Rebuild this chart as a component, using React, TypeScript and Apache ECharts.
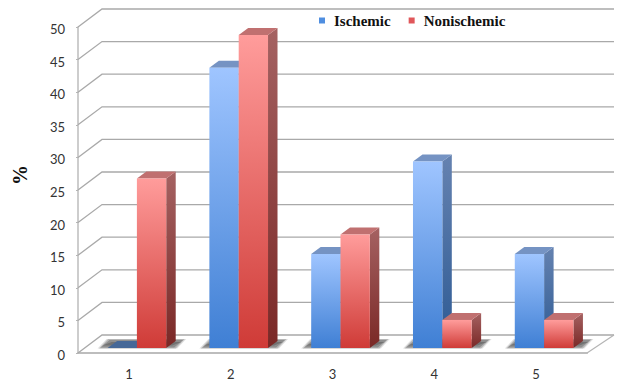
import React, { useEffect, useRef } from "react";
import * as echarts from "echarts";

const categories = ["1", "2", "3", "4", "5"];
const ischemic = [0, 43, 14.4, 28.6, 14.4];
const nonischemic = [26, 48, 17.4, 4.3, 4.3];
const wallTicks = [0, 5, 10, 15, 20, 25, 30, 35, 40, 45, 50];

// Projection of the chart's depth onto the page
const WALL_DX = 24;
const WALL_DY = -18;
const BAR_SHIFT_X = 8;
const BAR_SHIFT_Y = -5;
const BAR_DEPTH_X = 9.5;
const BAR_DEPTH_Y = -7;
const BAR_WIDTH_RATIO = 0.288;

type Palette = {
  frontTop: string;
  frontBottom: string;
  sideTop: string;
  sideBottom: string;
  cap: string;
  flatCap: string;
};

const bluePalette: Palette = {
  frontTop: "#9fc5ff",
  frontBottom: "#3f7fd4",
  sideTop: "#6582b0",
  sideBottom: "#2d5a94",
  cap: "#7593c3",
  flatCap: "#466897",
};
const redPalette: Palette = {
  frontTop: "#ff9c9b",
  frontBottom: "#cf3b37",
  sideTop: "#a56262",
  sideBottom: "#7a2826",
  cap: "#c07070",
  flatCap: "#a04444",
};

const vertical = (top: string, bottom: string) =>
  new echarts.graphic.LinearGradient(0, 0, 0, 1, [
    { offset: 0, color: top },
    { offset: 1, color: bottom },
  ]);

const polygon = (points: number[][], fill: any) => ({
  type: "polygon",
  shape: { points },
  style: { fill },
});

// A cuboid standing on the floor: side, cap, then the front face
const barRenderer = (side: -1 | 1, palette: Palette) => (_: any, api: any) => {
  const cat = api.value(0);
  const val = api.value(1);
  const base = api.coord([cat, 0]);
  const top = api.coord([cat, val]);
  const width = api.size([1, 0])[0] * BAR_WIDTH_RATIO;
  const x0 = base[0] + BAR_SHIFT_X + (side < 0 ? -width : 0);
  const x1 = x0 + width;
  const yb = base[1] + BAR_SHIFT_Y;
  const yt = top[1] + BAR_SHIFT_Y;
  const dx = BAR_DEPTH_X;
  const dy = BAR_DEPTH_Y;
  const children: any[] = [];
  if (val > 0) {
    children.push(
      polygon(
        [[x1, yt], [x1 + dx, yt + dy], [x1 + dx, yb + dy], [x1, yb]],
        vertical(palette.sideTop, palette.sideBottom),
      ),
    );
  }
  children.push(
    polygon(
      [[x0, yt], [x0 + dx, yt + dy], [x1 + dx, yt + dy], [x1, yt]],
      val > 0 ? palette.cap : palette.flatCap,
    ),
  );
  if (val > 0) {
    children.push({
      type: "rect",
      shape: { x: x0, y: yt, width, height: yb - yt },
      style: { fill: vertical(palette.frontTop, palette.frontBottom) },
    });
  }
  return { type: "group", children };
};

// Soft contact shadow beneath each pair of bars, feathered with stacked layers
const shadowRenderer = (_: any, api: any) => {
  const base = api.coord([api.value(0), 0]);
  const width = api.size([1, 0])[0] * BAR_WIDTH_RATIO;
  const left = base[0] + BAR_SHIFT_X - width;
  const right = base[0] + BAR_SHIFT_X + width;
  const y = base[1] + BAR_SHIFT_Y;
  const layers = [
    { grow: 3, fill: "rgba(130,130,130,0.25)" },
    { grow: 1.5, fill: "rgba(120,120,120,0.4)" },
    { grow: 0, fill: "rgba(110,110,110,0.55)" },
    { grow: -2, fill: "rgba(100,100,100,0.65)" },
  ];
  return {
    type: "group",
    children: layers.map(({ grow, fill }) =>
      polygon(
        [
          [left - 7 - grow, y - 0.5 + Math.min(grow, 1)],
          [left + 2 - grow, y - 8 - Math.min(grow, 1)],
          [right + 17 + grow, y - 8 - Math.min(grow, 1)],
          [right + 8 + grow, y - 0.5 + Math.min(grow, 1)],
        ],
        fill,
      ),
    ),
  };
};

// Side wall and back wall rules at every tick, plus the floor outline
const wallRenderer = (params: any, api: any) => {
  const v = api.value(1);
  const grid = params.coordSys;
  const y = api.coord([0, v])[1];
  const x0 = grid.x;
  const x1 = grid.x + grid.width;
  const backY = y + WALL_DY;
  const children: any[] = [
    {
      type: "polyline",
      shape: {
        points: [[x0, y], [x0 + WALL_DX, backY], [x1 + WALL_DX + 3, backY]],
      },
      style: { fill: "none", stroke: "#a9a9a9", lineWidth: 1.3 },
    },
  ];
  if (v === 0) {
    children.push({
      type: "line",
      shape: { x1, y1: y, x2: x1 + WALL_DX + 3, y2: backY },
      style: { stroke: "#b4b4b4", lineWidth: 1.2 },
    });
  }
  return { type: "group", children };
};

export default function App() {
  const ref = useRef<HTMLDivElement>(null);

  useEffect(() => {
    if (!ref.current) return;
    const chart = echarts.init(ref.current, undefined, { renderer: "svg" });
    chart.setOption({
      animation: false,
      backgroundColor: "#ffffff",
      grid: { left: 78, right: 35, top: 27, bottom: 30, containLabel: false },
      legend: {
        left: 314,
        top: 8,
        icon: "rect",
        itemWidth: 6,
        itemHeight: 6,
        itemGap: 18,
        selectedMode: false,
        data: ["Ischemic", "Nonischemic"],
        textStyle: {
          fontFamily: "Liberation Serif",
          fontWeight: "bold",
          fontSize: 15,
          color: "#111111",
          padding: [0, 0, 0, 4],
        },
      },
      graphic: [
        {
          type: "text",
          x: 20,
          y: 175,
          rotation: Math.PI / 2,
          style: {
            text: "%",
            fontFamily: "Liberation Serif",
            fontWeight: "bold",
            fontSize: 20,
            fill: "#111111",
            align: "center",
            verticalAlign: "middle",
          },
        },
      ],
      xAxis: {
        type: "category",
        data: categories,
        axisLine: { lineStyle: { color: "#bdbdbd", width: 2 } },
        axisTick: { length: 4, lineStyle: { color: "#b4b4b4", width: 1 } },
        axisLabel: {
          fontFamily: "Lato",
          fontSize: 13,
          color: "#333333",
          margin: 14,
        },
      },
      yAxis: {
        type: "value",
        min: 0,
        max: 50,
        interval: 5,
        splitLine: { show: false },
        axisLine: { show: true, lineStyle: { color: "#bdbdbd", width: 1.5 } },
        axisTick: { show: true, length: 2, lineStyle: { color: "#b4b4b4" } },
        axisLabel: {
          fontFamily: "Lato",
          fontSize: 13,
          color: "#333333",
          margin: 13,
          lineHeight: 4,
          verticalAlign: "top",
        },
      },
      series: [
        {
          type: "custom",
          name: "wall",
          z: 1,
          clip: false,
          silent: true,
          renderItem: wallRenderer,
          data: wallTicks.map((v) => [0, v]),
        },
        {
          type: "custom",
          name: "shadow",
          z: 2,
          clip: false,
          silent: true,
          renderItem: shadowRenderer,
          data: categories.map((_, i) => [i, 0]),
        },
        {
          type: "custom",
          name: "Ischemic",
          z: 3,
          clip: false,
          itemStyle: { color: "#4f8ee0" },
          renderItem: barRenderer(-1, bluePalette),
          data: ischemic.map((v, i) => [i, v]),
        },
        {
          type: "custom",
          name: "Nonischemic",
          z: 4,
          clip: false,
          itemStyle: { color: "#e0575a" },
          renderItem: barRenderer(1, redPalette),
          data: nonischemic.map((v, i) => [i, v]),
        },
      ],
    });
    return () => chart.dispose();
  }, []);

  return (
    <div
      ref={ref}
      style={{ position: "absolute", left: 0, top: 0, width: 622, height: 383 }}
    />
  );
}
